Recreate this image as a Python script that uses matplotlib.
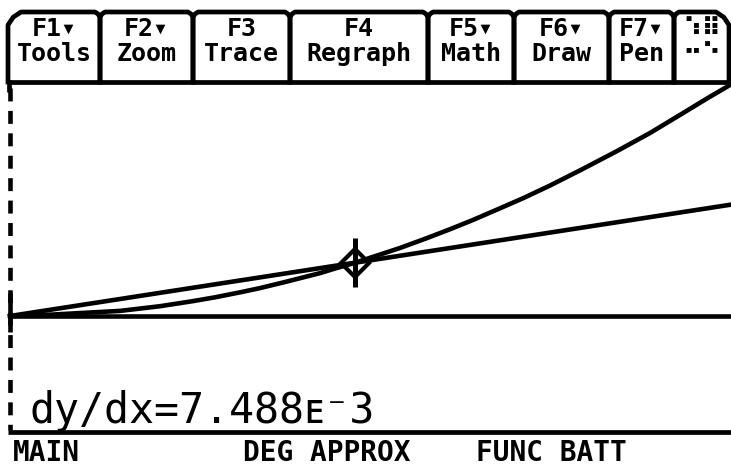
import matplotlib
matplotlib.use("Agg")
import matplotlib.pyplot as plt

# TI-89 graph screen: f(x) with a secant/tangent line and trace cursor
curve_x = [0.00, 0.58, 1.53, 2.08, 2.54, 2.84, 3.23, 3.47, 3.79, 4.02, 4.30, 4.51, 4.78,
           5.41, 5.78, 6.10, 6.42, 6.75, 7.12, 7.49, 7.95, 8.42, 8.88, 9.33, 9.67, 10.0]
curve_y = [0.00, 0.03, 0.11, 0.21, 0.32, 0.40, 0.52, 0.60, 0.72, 0.81, 0.92, 1.02, 1.14,
           1.46, 1.67, 1.86, 2.06, 2.28, 2.53, 2.80, 3.16, 3.54, 3.93, 4.35, 4.67, 4.97]
line_x = [0.0, 10.0]
line_y = [0.0, 2.39]
cursor = (4.78, 1.14)
readout = "dy/dx=7.488ᴇ⁻3"

tab_edges = [8, 100, 193, 290, 428, 514, 609, 674, 729]
tab_top = ["F1▾", "F2▾", "F3", "F4", "F5▾", "F6▾", "F7▾", "⠱⠿"]
tab_bottom = ["Tools", "Zoom", "Trace", "Regraph", "Math", "Draw", "Pen", "⠒⠑"]
status = [("MAIN", 13), ("DEG APPROX", 243), ("FUNC BATT", 476)]

MONO = ["DejaVu Sans Mono", "DejaVu Sans"]
W, H = 731, 466

fig = plt.figure(figsize=(W / 100, H / 100), dpi=100)
fig.patch.set_facecolor("white")

# graph axes: x=0 at px 10, 72.1 px/unit; y=0 at px 316, 46.6 px/unit
ax = fig.add_axes([0, 0, 1, 1])
ax.set_xlim(-10 / 72.1, (W - 10) / 72.1)
ax.set_ylim(-(H - 316) / 46.6, 316 / 46.6)
ax.axis("off")

lw = 3.3
ax.plot([0, 10], [0, 0], color="black", lw=lw, solid_capstyle="butt")
ax.plot([0, 0], [4.9, -2.45], color="black", lw=lw,
        linestyle=(0, (13 / 4.6, 9.5 / 4.6)), dash_capstyle="butt")
ax.plot([0, 0], [-0.35, 0.5], color="black", lw=lw, solid_capstyle="butt")
ax.plot(curve_x, curve_y, color="black", lw=lw, solid_joinstyle="miter")
ax.plot(line_x, line_y, color="black", lw=lw)

# trace cursor
cx, cy = cursor
ax.plot([cx, cx], [cy - 24 / 46.6, cy + 25 / 46.6], color="black", lw=3.6,
        solid_capstyle="butt")
ax.plot([cx], [cy], marker="D", markersize=14, markerfacecolor="none",
        markeredgecolor="black", markeredgewidth=3.0)

# screen chrome in pixel coordinates
ui = fig.add_axes([0, 0, 1, 1])
ui.set_xlim(0, W)
ui.set_ylim(H, 0)
ui.axis("off")
ui.patch.set_alpha(0)

blw = 3.4
for i in range(len(tab_edges) - 1):
    x0, x1 = tab_edges[i], tab_edges[i + 1]
    c0 = 13 if i == 0 else 5
    c1 = 13 if i == len(tab_edges) - 2 else 5
    xs = [x0, x0, x0 + c0 * 0.4, x0 + c0, x1 - c1, x1 - c1 * 0.4, x1, x1]
    ys = [82, 12 + c0, 12 + c0 * 0.4, 12, 12, 12 + c1 * 0.4, 12 + c1, 82]
    ui.plot(xs, ys, color="black", lw=blw, solid_joinstyle="round")
    xc = (x0 + x1) / 2
    ui.text(xc, 29, tab_top[i], ha="center", va="center", fontsize=18,
            fontweight="bold", family=MONO)
    ui.text(xc, 54, tab_bottom[i], ha="center", va="center", fontsize=18,
            fontweight="bold", family=MONO)

ui.plot([8, W], [82, 82], color="black", lw=blw, solid_capstyle="butt")
ui.plot([9, 9], [80, 92], color="black", lw=blw, solid_capstyle="butt")
ui.plot([8, W], [432, 432], color="black", lw=blw, solid_capstyle="butt")

ui.text(30, 423, readout, ha="left", va="baseline", fontsize=30, family=MONO)

for label, x in status:
    ui.text(x, 453, label, ha="left", va="center", fontsize=20,
            fontweight="bold", family=MONO)

fig.savefig("out.png", dpi=100, facecolor="white")
